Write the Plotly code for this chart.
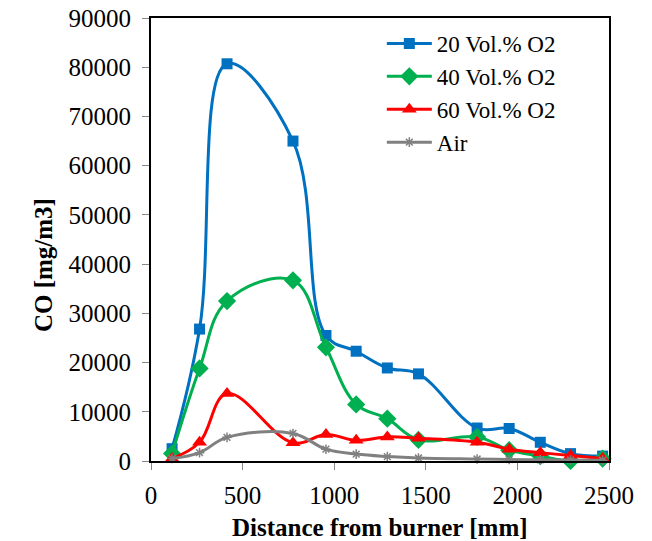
import plotly.graph_objects as go

# Measurement positions along the furnace [mm]
distance = [115, 265, 415, 775, 955, 1120, 1290, 1460, 1780, 1955, 2125, 2290, 2465]

# CO concentration [mg/m3] for each oxidant composition
co_20 = [2500, 26800, 80700, 65000, 25500, 22300, 18900, 17700, 6700, 6600, 3800, 1500, 1000]
co_40 = [1500, 18800, 32500, 36700, 23100, 11500, 8600, 4300, 4900, 2200, 1000, 0, 500]
co_60 = [500, 3800, 13700, 3700, 5400, 4200, 4900, 4600, 3800, 2400, 1700, 1100, 500]
co_air = [500, 1700, 4800, 5600, 2400, 1400, 900, 600, 400, 300, 250, 200, 150]

x_ticks = [0, 500, 1000, 1500, 2000, 2500]
y_ticks = list(range(0, 90001, 10000))

series = [
    ("20 Vol.% O2", co_20, "#0070C0", dict(symbol="square", size=11)),
    ("40 Vol.% O2", co_40, "#00B050", dict(symbol="diamond", size=14)),
    ("60 Vol.% O2", co_60, "#FF0000", dict(symbol="triangle-up", size=13)),
    ("Air", co_air, "#808080", dict(symbol="asterisk-open", size=8,
                                     line=dict(color="#e0e0e0", width=1.5))),
]

font_family = "Liberation Serif"
fsize = 25

fig = go.Figure()
for name, vals, color, marker in series:
    m = dict(color=color, **marker)
    fig.add_trace(go.Scatter(
        x=distance, y=vals, name=name, mode="lines+markers",
        line=dict(color=color, width=3, shape="spline", smoothing=1.1),
        marker=m, cliponaxis=False,
    ))

axis_common = dict(
    showline=True, linecolor="black", linewidth=2, mirror=True,
    ticks="outside", ticklen=7, tickcolor="#888888", tickwidth=1,
    showgrid=False, zeroline=False, automargin=False,
    tickfont=dict(family=font_family, size=fsize, color="black"),
)

fig.update_layout(
    width=652, height=541,
    margin=dict(l=151, r=43, t=18, b=80),
    paper_bgcolor="white", plot_bgcolor="white",
    xaxis=dict(range=[0, 2500], tickvals=x_ticks,
               ticklabelstandoff=4, **axis_common),
    yaxis=dict(range=[0, 90000], tickvals=y_ticks, tickformat="d",
               ticklabelstandoff=6, **axis_common),
    legend=dict(x=0.504, y=0.991, xanchor="left", yanchor="top",
                bgcolor="rgba(0,0,0,0)", itemwidth=45,
                font=dict(family=font_family, size=23, color="black")),
    showlegend=True,
    annotations=[
        dict(text="<b>CO [mg/m3]</b>", textangle=-90,
             xref="paper", yref="paper", x=-0.236, y=0.442,
             xanchor="center", yanchor="middle", showarrow=False,
             font=dict(family=font_family, size=fsize, color="black")),
        dict(text="<b>Distance from burner [mm]</b>",
             xref="paper", yref="paper", x=0.5, y=-0.151,
             xanchor="center", yanchor="middle", showarrow=False,
             font=dict(family=font_family, size=fsize, color="black")),
    ],
)

fig.write_html("out.html")
